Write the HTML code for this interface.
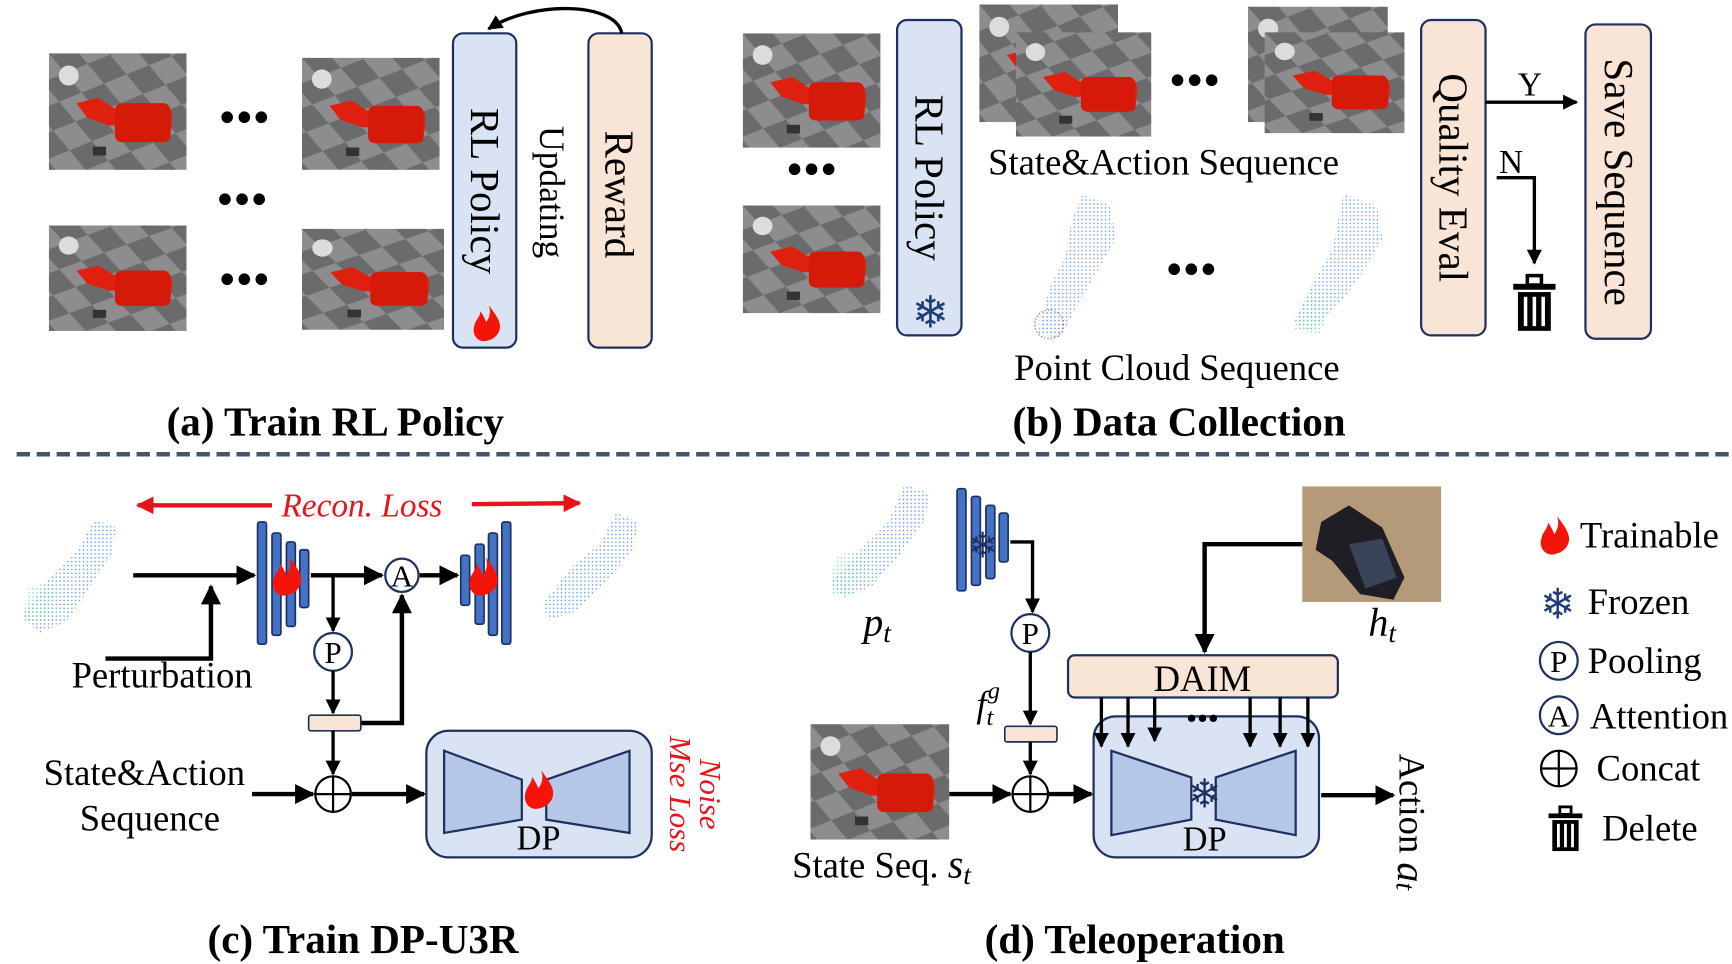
<!DOCTYPE html>
<html><head><meta charset="utf-8"><style>
html,body{margin:0;padding:0;background:#fff;}
svg{display:block;}
text{font-family:"Liberation Serif",serif;fill:#000;}
</style></head><body>
<svg width="1732" height="964" viewBox="0 0 1560 868" preserveAspectRatio="none" xmlns="http://www.w3.org/2000/svg">
<defs>
<marker id="ah" viewBox="0 0 10 10" refX="9" refY="5" markerWidth="4.5" markerHeight="4.5" orient="auto-start-reverse"><path d="M0,0L10,5L0,10z" fill="#000"/></marker>
<marker id="ahr" viewBox="0 0 10 10" refX="9" refY="5" markerWidth="4" markerHeight="4" orient="auto-start-reverse"><path d="M0,0L10,5L0,10z" fill="#e8141c"/></marker>
<pattern id="chk" width="44" height="44" patternUnits="userSpaceOnUse" patternTransform="rotate(-22) skewX(18)">
<rect width="44" height="44" fill="#8d8d8f"/><rect width="22" height="22" fill="#6b6b6d"/><rect x="22" y="22" width="22" height="22" fill="#6b6b6d"/></pattern>
<pattern id="pc" width="3.5" height="3.5" patternUnits="userSpaceOnUse"><circle cx="1.7" cy="1.7" r="0.7" fill="#3f7fe0"/></pattern>
<pattern id="pc2" width="3.5" height="3.5" patternUnits="userSpaceOnUse"><circle cx="1.7" cy="1.7" r="0.7" fill="#5ccf9a"/></pattern>
<symbol id="sim" viewBox="0 0 125 105" preserveAspectRatio="none">
<rect width="125" height="105" fill="url(#chk)"/>
<circle cx="18" cy="20" r="9" fill="#dcdcdc"/>
<path d="M25,45 L45,40 L60,50 L70,45 L105,45 Q112,47 112,60 L110,78 Q100,82 78,78 L70,65 L55,65 L35,58Z" fill="#e0200e"/>
<rect x="60" y="45" width="50" height="35" rx="6" fill="#d61a0a"/>
<rect x="40" y="84" width="12" height="8" fill="#333"/>
</symbol>
<symbol id="fire" viewBox="-13 -16 26 32"><path d="M2,-15 C9,-6 13,0 11,6 C9,12 3,15 -3,15 C-9,14 -12,8 -10,2 C-9,-3 -5,-5 -5,-10 C-2,-6 -1,-3 0,-1 C3,-5 4,-10 2,-15Z" fill="#f5140a"/></symbol>
<symbol id="trash" viewBox="0 0 40 52"><rect x="2" y="10" width="36" height="5" fill="#000"/><rect x="14" y="3" width="12" height="8" fill="none" stroke="#000" stroke-width="3"/><rect x="6" y="17" width="28" height="33" fill="#000"/><rect x="11" y="21" width="3" height="25" fill="#fff"/><rect x="18.5" y="21" width="3" height="25" fill="#fff"/><rect x="26" y="21" width="3" height="25" fill="#fff"/></symbol>
</defs>

<!-- (a) -->
<use href="#sim" x="44" y="48" width="124" height="105"/>
<use href="#sim" x="272" y="52" width="124" height="101"/>
<use href="#sim" x="44" y="203" width="124" height="95"/>
<use href="#sim" x="272" y="206" width="128" height="91"/>
<text x="220" y="120" font-size="44" text-anchor="middle">•••</text>
<text x="218" y="194" font-size="44" text-anchor="middle">•••</text>
<text x="220" y="266" font-size="44" text-anchor="middle">•••</text>
<rect x="408" y="30" width="57" height="283" rx="9" fill="#dae3f3" stroke="#1f3060" stroke-width="2"/>
<text transform="translate(437,172) rotate(90)" font-size="37" text-anchor="middle" dominant-baseline="central">RL Policy</text>
<use href="#fire" x="424" y="273" width="28" height="36"/>
<text transform="translate(497,173) rotate(90)" font-size="32" text-anchor="middle" dominant-baseline="central">Updating</text>
<rect x="530" y="30" width="57" height="283" rx="9" fill="#f8e5d6" stroke="#1f3060" stroke-width="2"/>
<text transform="translate(558,175) rotate(90)" font-size="37" text-anchor="middle" dominant-baseline="central">Reward</text>
<path d="M560,30 C555,2 480,0 440,26" fill="none" stroke="#000" stroke-width="3" marker-end="url(#ah)"/>
<text x="302" y="392" font-size="37" font-weight="bold" text-anchor="middle">(a) Train RL Policy</text>

<!-- (b) -->
<use href="#sim" x="669" y="30" width="124" height="103"/>
<use href="#sim" x="669" y="185" width="124" height="97"/>
<text x="731" y="167" font-size="44" text-anchor="middle">•••</text>
<rect x="808" y="18" width="58" height="284" rx="9" fill="#dae3f3" stroke="#1f3060" stroke-width="2"/>
<text transform="translate(837,160) rotate(90)" font-size="37" text-anchor="middle" dominant-baseline="central">RL Policy</text>
<text x="838" y="295" font-size="40" text-anchor="middle" style="font-family:'DejaVu Sans',sans-serif;fill:#1f3d7a">❄</text>
<use href="#sim" x="882" y="4" width="125" height="106"/>
<use href="#sim" x="915" y="29" width="122" height="94"/>
<text x="1076" y="87" font-size="44" text-anchor="middle">•••</text>
<use href="#sim" x="1124" y="6" width="126" height="104"/>
<use href="#sim" x="1139" y="29" width="126" height="91"/>
<text x="1048" y="157" font-size="33" text-anchor="middle">State&amp;Action Sequence</text>
<polygon points="975,175 1000,185 1005,215 985,250 965,285 955,305 935,300 945,260 960,230 965,200" fill="url(#pc)" opacity="0.8"/>
<circle cx="945" cy="292" r="14" fill="url(#pc)" opacity="0.3"/><circle cx="945" cy="292" r="13" fill="none" stroke="#d04040" stroke-width="1" stroke-dasharray="1 2"/>
<polygon points="1210,175 1240,185 1245,215 1225,250 1205,275 1180,300 1165,290 1185,250 1200,225 1205,200" fill="url(#pc)" opacity="0.8"/>
<polygon points="1175,270 1200,265 1190,300 1165,298" fill="url(#pc2)" opacity="0.8"/>
<text x="1073" y="257" font-size="44" text-anchor="middle">•••</text>
<text x="1060" y="342" font-size="33" text-anchor="middle">Point Cloud Sequence</text>
<rect x="1280" y="18" width="58" height="284" rx="9" fill="#f8e5d6" stroke="#1f3060" stroke-width="2"/>
<text transform="translate(1309,160) rotate(90)" font-size="37" text-anchor="middle" dominant-baseline="central">Quality Eval</text>
<line x1="1338" y1="92" x2="1420" y2="92" stroke="#000" stroke-width="3" marker-end="url(#ah)"/>
<text x="1378" y="86" font-size="30" text-anchor="middle">Y</text>
<polyline points="1348,160 1382,160 1382,237" fill="none" stroke="#000" stroke-width="3" marker-end="url(#ah)"/>
<text x="1361" y="156" font-size="30" text-anchor="middle">N</text>
<use href="#trash" x="1359" y="245" width="46" height="55"/>
<rect x="1428" y="22" width="59" height="283" rx="9" fill="#f8e5d6" stroke="#1f3060" stroke-width="2"/>
<text transform="translate(1458,164) rotate(90)" font-size="37" text-anchor="middle" dominant-baseline="central">Save Sequence</text>
<text x="1062" y="392" font-size="37" font-weight="bold" text-anchor="middle">(b) Data Collection</text>

<line x1="15" y1="409" x2="1560" y2="409" stroke="#44546a" stroke-width="4" stroke-dasharray="12 6"/>

<!-- (c) -->
<line x1="245" y1="455" x2="124" y2="455" stroke="#e8141c" stroke-width="4" marker-end="url(#ahr)"/>
<line x1="425" y1="454" x2="522" y2="453" stroke="#e8141c" stroke-width="4" marker-end="url(#ahr)"/>
<text x="326" y="465" font-size="30" font-style="italic" text-anchor="middle" style="fill:#e8141c">Recon. Loss</text>
<polygon points="85,468 105,475 100,500 80,530 60,560 35,570 20,555 45,520 70,495" fill="url(#pc)" opacity="0.85"/>
<polygon points="25,530 55,520 45,560 20,560" fill="url(#pc2)" opacity="0.8"/>
<polygon points="555,462 575,470 570,495 545,525 520,550 495,558 488,545 515,510 540,490" fill="url(#pc)" opacity="0.85"/>
<g fill="#4472c4" stroke="#1f3060" stroke-width="1.5">
<rect x="232" y="470" width="8" height="110" rx="2"/><rect x="245" y="480" width="8" height="92" rx="2"/><rect x="258" y="488" width="8" height="76" rx="2"/><rect x="270" y="495" width="8" height="52" rx="2"/>
<rect x="415" y="500" width="8" height="45" rx="2"/><rect x="428" y="490" width="8" height="72" rx="2"/><rect x="440" y="480" width="8" height="92" rx="2"/><rect x="452" y="470" width="8" height="110" rx="2"/>
</g>
<use href="#fire" x="243" y="500" width="30" height="38"/>
<use href="#fire" x="420" y="500" width="30" height="38"/>
<line x1="120" y1="518" x2="229" y2="518" stroke="#000" stroke-width="4" marker-end="url(#ah)"/>
<polyline points="95,593 190,593 190,528" fill="none" stroke="#000" stroke-width="4" marker-end="url(#ah)"/>
<text x="146" y="619" font-size="33" text-anchor="middle">Perturbation</text>
<line x1="280" y1="518" x2="344" y2="518" stroke="#000" stroke-width="4" marker-end="url(#ah)"/>
<circle cx="362" cy="518" r="15" fill="#fff" stroke="#1f3060" stroke-width="2"/><text x="362" y="528" font-size="28" text-anchor="middle">A</text>
<line x1="378" y1="518" x2="412" y2="518" stroke="#000" stroke-width="4" marker-end="url(#ah)"/>
<line x1="300" y1="518" x2="300" y2="568" stroke="#000" stroke-width="3" marker-end="url(#ah)"/>
<circle cx="300" cy="587" r="17" fill="#fff" stroke="#1f3060" stroke-width="2"/><text x="300" y="597" font-size="28" text-anchor="middle">P</text>
<line x1="300" y1="604" x2="300" y2="642" stroke="#000" stroke-width="3" marker-end="url(#ah)"/>
<polyline points="325,651 362,651 362,536" fill="none" stroke="#000" stroke-width="4" marker-end="url(#ah)"/>
<rect x="278" y="644" width="47" height="14" rx="2" fill="#f8e5d6" stroke="#1f3060" stroke-width="1.5"/>
<line x1="300" y1="658" x2="300" y2="697" stroke="#000" stroke-width="3" marker-end="url(#ah)"/>
<circle cx="300" cy="715" r="16" fill="#fff" stroke="#000" stroke-width="2"/><line x1="284" y1="715" x2="316" y2="715" stroke="#000" stroke-width="2"/><line x1="300" y1="699" x2="300" y2="731" stroke="#000" stroke-width="2"/>
<text x="130" y="707" font-size="33" text-anchor="middle">State&amp;Action</text>
<text x="135" y="748" font-size="33" text-anchor="middle">Sequence</text>
<line x1="227" y1="715" x2="282" y2="715" stroke="#000" stroke-width="4" marker-end="url(#ah)"/>
<line x1="317" y1="715" x2="382" y2="715" stroke="#000" stroke-width="4" marker-end="url(#ah)"/>
<rect x="384" y="658" width="203" height="114" rx="20" fill="#dae3f3" stroke="#1f3060" stroke-width="2"/>
<polygon points="400,676 470,702 470,738 400,750" fill="#b4c7e7" stroke="#1f3060" stroke-width="2"/>
<polygon points="492,702 567,676 567,750 492,738" fill="#b4c7e7" stroke="#1f3060" stroke-width="2"/>
<use href="#fire" x="470" y="692" width="30" height="38"/>
<text x="485" y="765" font-size="31" text-anchor="middle">DP</text>
<text transform="translate(640,715) rotate(90)" font-size="28" font-style="italic" text-anchor="middle" dominant-baseline="central" style="fill:#e8141c">Noise</text>
<text transform="translate(613,715) rotate(90)" font-size="28" font-style="italic" text-anchor="middle" dominant-baseline="central" style="fill:#e8141c">Mse Loss</text>
<text x="327" y="858" font-size="37" font-weight="bold" text-anchor="middle">(c) Train DP-U3R</text>

<!-- (d) -->
<polygon points="815,436 838,445 832,470 810,500 785,528 760,538 748,525 775,495 800,470" fill="url(#pc)" opacity="0.85"/>
<polygon points="752,500 780,495 770,535 748,535" fill="url(#pc2)" opacity="0.8"/>
<g fill="#4472c4" stroke="#1f3060" stroke-width="1.5">
<rect x="862" y="440" width="8" height="92" rx="2"/><rect x="875" y="447" width="8" height="80" rx="2"/><rect x="888" y="455" width="8" height="66" rx="2"/><rect x="900" y="462" width="8" height="44" rx="2"/>
</g>
<text x="885" y="502" font-size="32" text-anchor="middle" style="font-family:'DejaVu Sans',sans-serif;fill:#1f3060">❄</text>
<text x="790" y="572" font-size="36" font-style="italic" text-anchor="middle">p<tspan font-size="25" dy="6">t</tspan></text>
<polyline points="910,488 930,488 930,551" fill="none" stroke="#000" stroke-width="3" marker-end="url(#ah)"/>
<circle cx="928" cy="570" r="17" fill="#fff" stroke="#1f3060" stroke-width="2"/><text x="928" y="580" font-size="28" text-anchor="middle">P</text>
<line x1="928" y1="587" x2="928" y2="652" stroke="#000" stroke-width="3" marker-end="url(#ah)"/>
<text x="890" y="645" font-size="33" font-style="italic" text-anchor="middle">f<tspan font-size="22" dx="0" dy="8">t</tspan><tspan font-size="22" dx="-5" dy="-24">g</tspan></text>
<rect x="905" y="654" width="47" height="14" rx="2" fill="#f8e5d6" stroke="#1f3060" stroke-width="1.5"/>
<line x1="928" y1="668" x2="928" y2="697" stroke="#000" stroke-width="3" marker-end="url(#ah)"/>
<circle cx="928" cy="715" r="16" fill="#fff" stroke="#000" stroke-width="2"/><line x1="912" y1="715" x2="944" y2="715" stroke="#000" stroke-width="2"/><line x1="928" y1="699" x2="928" y2="731" stroke="#000" stroke-width="2"/>
<use href="#sim" x="730" y="652" width="125" height="104"/>
<text x="794" y="790" font-size="33" text-anchor="middle">State Seq. <tspan font-style="italic" font-size="36">s</tspan><tspan font-style="italic" font-size="25" dy="6">t</tspan></text>
<line x1="855" y1="715" x2="910" y2="715" stroke="#000" stroke-width="4" marker-end="url(#ah)"/>
<line x1="944" y1="715" x2="983" y2="715" stroke="#000" stroke-width="4" marker-end="url(#ah)"/>
<rect x="1173" y="438" width="125" height="104" fill="#b49a78"/>
<path d="M1190,470 L1215,455 L1245,475 L1265,520 L1255,540 L1225,535 L1200,505 L1185,495Z" fill="#1e1e24"/>
<path d="M1215,490 L1245,485 L1258,520 L1230,530Z" fill="#3a4458"/>
<text x="1245" y="572" font-size="36" font-style="italic" text-anchor="middle">h<tspan font-size="25" dy="6">t</tspan></text>
<polyline points="1173,490 1085,490 1085,587" fill="none" stroke="#000" stroke-width="4" marker-end="url(#ah)"/>
<rect x="962" y="590" width="243" height="38" rx="6" fill="#f8e5d6" stroke="#1f3060" stroke-width="2"/>
<text x="1083" y="622" font-size="33" text-anchor="middle">DAIM</text>
<rect x="985" y="645" width="203" height="127" rx="20" fill="#dae3f3" stroke="#1f3060" stroke-width="2"/>
<polygon points="1001,676 1073,700 1073,738 1001,752" fill="#b4c7e7" stroke="#1f3060" stroke-width="2"/>
<polygon points="1095,700 1167,676 1167,752 1095,738" fill="#b4c7e7" stroke="#1f3060" stroke-width="2"/>
<text x="1085" y="727" font-size="36" text-anchor="middle" style="font-family:'DejaVu Sans',sans-serif;fill:#1f3060">❄</text>
<text x="1085" y="766" font-size="31" text-anchor="middle">DP</text>
<g stroke="#000" stroke-width="3" marker-end="url(#ah)">
<line x1="992" y1="628" x2="992" y2="672"/><line x1="1016" y1="628" x2="1016" y2="672"/><line x1="1040" y1="628" x2="1040" y2="667"/>
<line x1="1126" y1="628" x2="1126" y2="672"/><line x1="1153" y1="628" x2="1153" y2="672"/><line x1="1178" y1="628" x2="1178" y2="672"/>
</g>
<text x="1083" y="656" font-size="28" text-anchor="middle">•••</text>
<line x1="1190" y1="716" x2="1255" y2="716" stroke="#000" stroke-width="4" marker-end="url(#ah)"/>
<text transform="translate(1272,740) rotate(90)" font-size="33" text-anchor="middle" dominant-baseline="central">Action <tspan font-style="italic" font-size="36">a</tspan><tspan font-style="italic" font-size="25" dy="6">t</tspan></text>
<text x="1022" y="858" font-size="37" font-weight="bold" text-anchor="middle">(d) Teleoperation</text>

<!-- legend -->
<use href="#fire" x="1385" y="462" width="30" height="40"/>
<text x="1423" y="493" font-size="33">Trainable</text>
<text x="1403" y="557" font-size="38" text-anchor="middle" style="font-family:'DejaVu Sans',sans-serif;fill:#1f3d7a">❄</text>
<text x="1430" y="553" font-size="33">Frozen</text>
<circle cx="1404" cy="595" r="17" fill="#fff" stroke="#1f3060" stroke-width="2"/><text x="1404" y="605" font-size="28" text-anchor="middle">P</text>
<text x="1430" y="606" font-size="33">Pooling</text>
<circle cx="1404" cy="644" r="17" fill="#fff" stroke="#1f3060" stroke-width="2"/><text x="1404" y="654" font-size="28" text-anchor="middle">A</text>
<text x="1432" y="656" font-size="33">Attention</text>
<circle cx="1404" cy="692" r="16" fill="#fff" stroke="#000" stroke-width="2"/><line x1="1388" y1="692" x2="1420" y2="692" stroke="#000" stroke-width="2"/><line x1="1404" y1="676" x2="1404" y2="708" stroke="#000" stroke-width="2"/>
<text x="1438" y="703" font-size="33">Concat</text>
<use href="#trash" x="1393" y="724" width="34" height="44"/>
<text x="1443" y="757" font-size="33">Delete</text>
</svg>
</body></html>
